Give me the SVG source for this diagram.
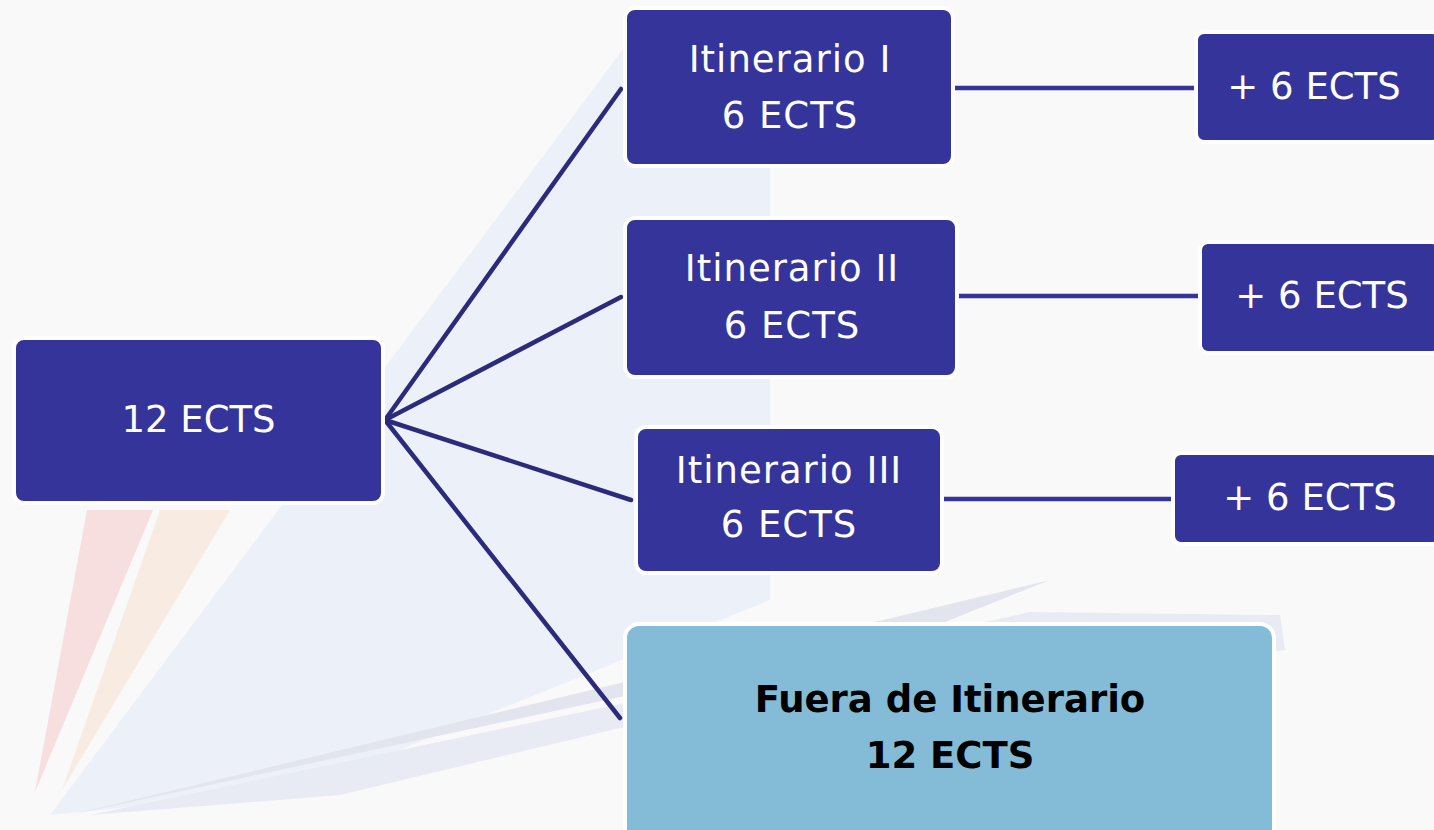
<svg xmlns="http://www.w3.org/2000/svg" width="1434" height="830" viewBox="0 0 1434 830">
<style>
.box{fill:#35349a;stroke:#ffffff;stroke-width:4}
.box2{fill:#84bcd8;stroke:#ffffff;stroke-width:4}
.t{font-family:"DejaVu Sans","Liberation Sans",sans-serif;font-size:37px;fill:#ffffff;text-anchor:middle}
.ti{letter-spacing:1px}
.tb{font-family:"DejaVu Sans","Liberation Sans",sans-serif;font-size:37px;font-weight:bold;fill:#000000;text-anchor:middle}
.fan{stroke:#2b2b7a;stroke-width:4.5;fill:none;stroke-linecap:round}
.hz{stroke:#35349a;stroke-width:4.5;fill:none}
</style>
<g id="background">
<rect x="0" y="0" width="1434" height="830" fill="#f9f9f9"/>
<polygon points="50,815 630,40 770,40 770,600 300,790" fill="#ecf0f9"/>
<polygon points="70,815 1050,580 900,640 620,697" fill="#e3e5ee"/>
<polygon points="90,815 620,704 1030,612 1280,615 1285,650 620,728 340,795" fill="#e8ebf4"/>
<polygon points="87,510 153,510 35,792" fill="#f7dfe0"/>
<polygon points="160,510 230,510 62,790" fill="#f8ece2"/>
</g>
<g id="connectors">
<line class="fan" x1="385" y1="420" x2="621" y2="89"/>
<line class="fan" x1="385" y1="420" x2="621" y2="297"/>
<line class="fan" x1="385" y1="420" x2="631" y2="500"/>
<line class="fan" x1="385" y1="420" x2="620" y2="718"/>
<line class="hz" x1="953" y1="88" x2="1196" y2="88"/>
<line class="hz" x1="957" y1="296" x2="1200" y2="296"/>
<line class="hz" x1="942" y1="499" x2="1173" y2="499"/>
</g>
<g id="root">
<rect class="box" x="14" y="338" width="369" height="165" rx="10"/>
<text class="t" x="198.5" y="432">12 ECTS</text>
</g>
<g id="itinerario1">
<rect class="box" x="625" y="8" width="328" height="158" rx="10"/>
<text class="t ti" x="790" y="72">Itinerario I</text>
<text class="t ti" x="790" y="128">6 ECTS</text>
</g>
<g id="itinerario2">
<rect class="box" x="625" y="218" width="332" height="159" rx="10"/>
<text class="t ti" x="792" y="281">Itinerario II</text>
<text class="t ti" x="792" y="338">6 ECTS</text>
</g>
<g id="itinerario3">
<rect class="box" x="636" y="427" width="306" height="146" rx="10"/>
<text class="t ti" x="789" y="483">Itinerario III</text>
<text class="t ti" x="789" y="537">6 ECTS</text>
</g>
<g id="plus1">
<rect class="box" x="1196" y="32" width="244" height="110" rx="8"/>
<text class="t" x="1314" y="99">+ 6 ECTS</text>
</g>
<g id="plus2">
<rect class="box" x="1200" y="242" width="240" height="111" rx="8"/>
<text class="t" x="1322" y="308">+ 6 ECTS</text>
</g>
<g id="plus3">
<rect class="box" x="1173" y="453" width="267" height="91" rx="8"/>
<text class="t" x="1310" y="510">+ 6 ECTS</text>
</g>
<g id="fuera">
<rect class="box2" x="625" y="624" width="649" height="220" rx="14"/>
<text class="tb" x="950" y="712">Fuera de Itinerario</text>
<text class="tb" x="950" y="768">12 ECTS</text>
</g>
</svg>
